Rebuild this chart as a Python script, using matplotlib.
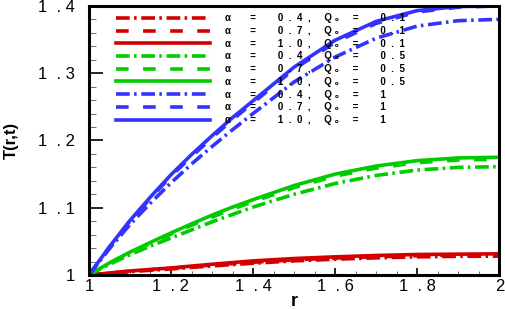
import matplotlib
matplotlib.use("Agg")
import matplotlib.pyplot as plt
import numpy as np

r = [1.0, 1.05, 1.1, 1.15, 1.2, 1.25, 1.3, 1.35, 1.4, 1.5, 1.6, 1.7, 1.8, 1.9, 2.0]

# Q0 = 0.1 (red)
T_q01_a04 = [1.0, 1.0025, 1.005, 1.007, 1.009, 1.0113, 1.0135, 1.0155, 1.0175, 1.021, 1.0235, 1.0255, 1.027, 1.0278, 1.028]
T_q01_a07 = [1.0, 1.0028, 1.0055, 1.0078, 1.010, 1.0125, 1.0148, 1.017, 1.019, 1.0225, 1.0252, 1.0272, 1.0287, 1.0295, 1.0298]
T_q01_a10 = [1.0, 1.003, 1.006, 1.0083, 1.0105, 1.0133, 1.016, 1.0185, 1.021, 1.0245, 1.027, 1.029, 1.0305, 1.031, 1.0315]

# Q0 = 0.5 (green)
T_q05_a04 = [1.0, 1.016, 1.030, 1.043, 1.055, 1.067, 1.079, 1.090, 1.101, 1.120, 1.136, 1.148, 1.156, 1.160, 1.161]
T_q05_a07 = [1.0, 1.0175, 1.033, 1.047, 1.061, 1.074, 1.086, 1.098, 1.109, 1.130, 1.147, 1.159, 1.167, 1.171, 1.172]
T_q05_a10 = [1.0, 1.018, 1.034, 1.0485, 1.0625, 1.076, 1.089, 1.101, 1.112, 1.133, 1.150, 1.162, 1.170, 1.174, 1.175]

# Q0 = 1 (blue)
T_q1_a04 = [1.0, 1.039, 1.075, 1.107, 1.137, 1.165, 1.191, 1.216, 1.240, 1.287, 1.324, 1.352, 1.370, 1.378, 1.380]
T_q1_a07 = [1.0, 1.041, 1.080, 1.114, 1.147, 1.176, 1.204, 1.231, 1.256, 1.306, 1.346, 1.374, 1.391, 1.398, 1.400]
T_q1_a10 = [1.0, 1.042, 1.081, 1.116, 1.149, 1.179, 1.207, 1.234, 1.259, 1.309, 1.349, 1.377, 1.393, 1.399, 1.400]

alphas = ["0  .  4", "0  .  7", "1  .  0"]
q0s = ["0  .  1", "0  .  5", "1"]
labels = [f"α       =        {a}  ,     Q ₀     =        {q}" for q in q0s for a in alphas]

xticks = [1.0, 1.2, 1.4, 1.6, 1.8, 2.0]
xticklabels = ["1", "1  . 2", "1  . 4", "1  . 6", "1  . 8", "2"]
yticks = [1.0, 1.1, 1.2, 1.3, 1.4]
yticklabels = ["1", "1  . 1", "1  . 2", "1  . 3", "1  . 4"]

red = "#d40000"
green = "#00cc00"
blue = "#3333ff"
lw = 2.6
dashdot = (0, (3.8, 1.2, 0.7, 1.3))
dashed = (0, (3.5, 4.0))

plt.rcParams["font.family"] = ["Liberation Sans", "DejaVu Sans"]

fig = plt.figure(figsize=(5.05, 3.09), dpi=100)
ax = fig.add_axes([0.176, 0.110, 0.813, 0.871])

series = [
    (T_q01_a04, red, dashdot), (T_q01_a07, red, dashed), (T_q01_a10, red, "-"),
    (T_q05_a04, green, dashdot), (T_q05_a07, green, dashed), (T_q05_a10, green, "-"),
    (T_q1_a04, blue, dashdot), (T_q1_a07, blue, dashed), (T_q1_a10, blue, "-"),
]
for (vals, c, ls), lab in zip(series, labels):
    ax.plot(r, vals, color=c, linestyle=ls, lw=lw, label=lab)

ax.set_xlim(1, 2)
ax.set_ylim(1, 1.4)
ax.set_xticks(xticks)
ax.set_xticklabels(xticklabels, fontsize=12)
ax.set_yticks(yticks)
ax.set_yticklabels(yticklabels, fontsize=12)
ax.set_xticks(np.arange(1.0, 2.0001, 0.05), minor=True)
ax.set_yticks(np.arange(1.0, 1.4001, 0.02), minor=True)
ax.tick_params(axis="y", which="major", direction="in", length=10, width=1.2, pad=10)
ax.tick_params(axis="y", which="minor", direction="in", length=5, width=0.6, color="#555555")
ax.tick_params(axis="x", which="major", direction="in", length=5, width=1.2, pad=3)
ax.tick_params(axis="x", which="minor", direction="in", length=3, width=0.6, color="#555555")

for sp in ax.spines.values():
    sp.set_linewidth(2.2)

ax.set_xlabel("r", fontsize=13, fontweight="bold", labelpad=-1)
ax.set_ylabel("T(r,t)", fontsize=12, fontweight="bold", labelpad=14)

leg = ax.legend(
    loc="upper left",
    bbox_to_anchor=(0.045, 1.005),
    frameon=False,
    handlelength=9.7,
    handletextpad=1.5,
    labelspacing=0.28,
    prop={"size": 7, "weight": "bold"},
)

fig.savefig("out.png", dpi=100)
